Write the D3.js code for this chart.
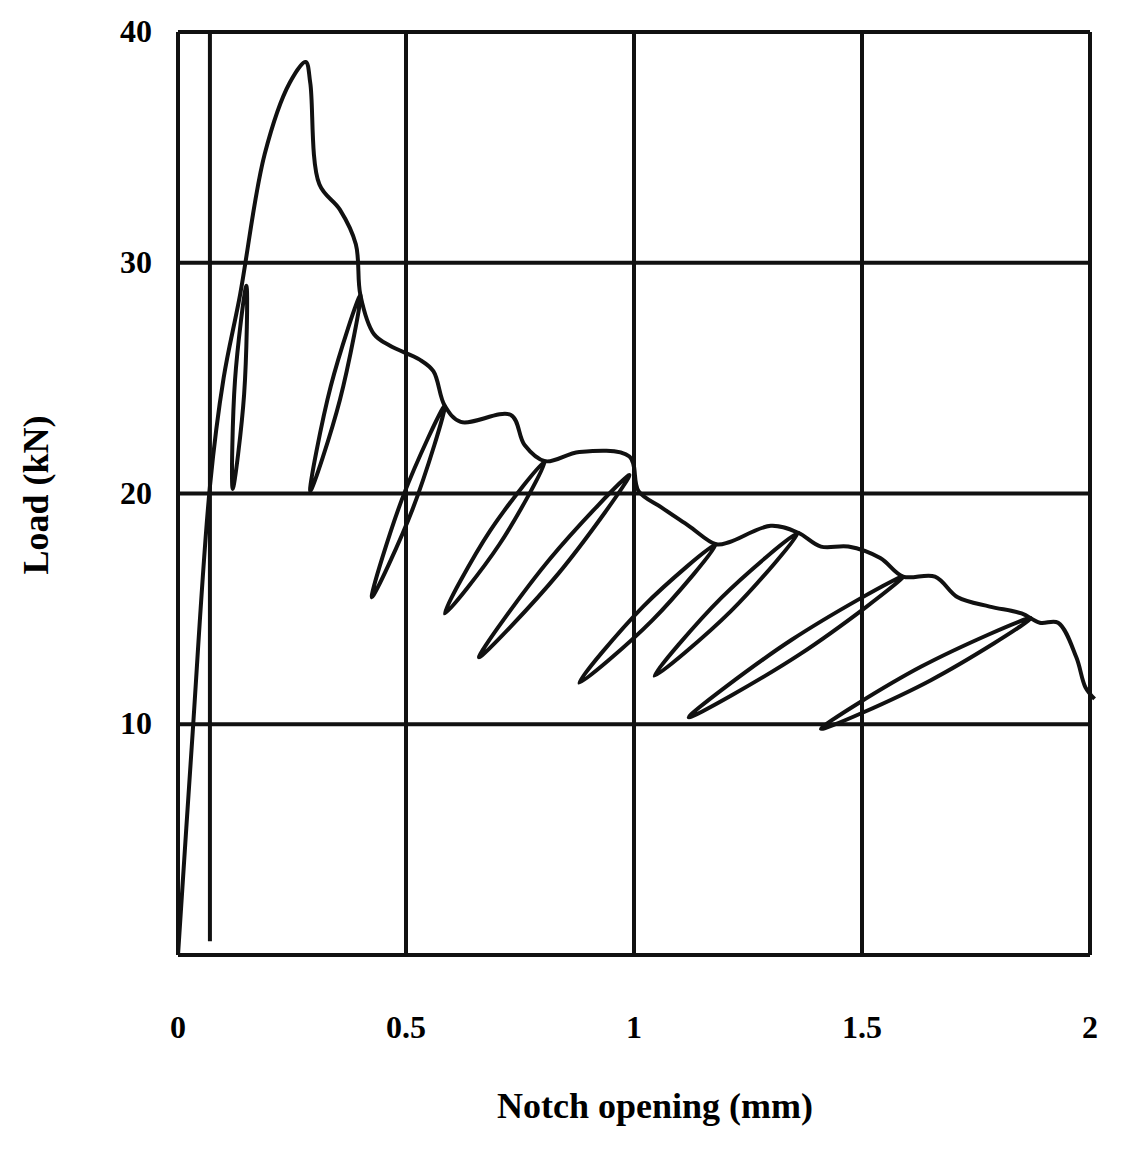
<!DOCTYPE html>
<html><head><meta charset="utf-8">
<script src="https://cdn.jsdelivr.net/npm/d3@7"></script>
<style>body{margin:0;background:#fff}</style></head>
<body><script>
// envelope curve: [opening mm, load kN]
let envelope = [[0,0],[0.03,9],[0.07,20.3],[0.1,25],[0.136,28.6],[0.19,34.7],[0.245,37.8],[0.28,38.7],[0.29,37.8],[0.31,33.4],
 [0.355,32.3],[0.39,30.8],[0.4,28.6],[0.43,26.9],[0.465,26.4],[0.53,25.8],[0.56,25.3],[0.585,23.8],[0.62,23.1],[0.73,23.4],
 [0.76,22.1],[0.805,21.4],[0.88,21.8],[0.99,21.6],[1.01,20.1],[1.06,19.4],[1.12,18.6],[1.18,17.8],[1.21,17.9],[1.3,18.6],
 [1.36,18.3],[1.41,17.7],[1.47,17.7],[1.54,17.2],[1.59,16.4],[1.66,16.4],[1.71,15.5],[1.78,15.1],[1.85,14.8],[1.89,14.4],
 [1.93,14.4],[1.97,12.9],[1.99,11.6],[2.01,11.1]];
// unloading/reloading loops: top point, bottom point
let loopTop = [[0.15,29],[0.4,28.6],[0.585,23.8],[0.805,21.4],[0.99,20.8],[1.18,17.8],[1.36,18.3],[1.59,16.4],[1.87,14.6]];
let loopBottom = [[0.12,20.2],[0.29,20.1],[0.425,15.5],[0.585,14.8],[0.66,12.9],[0.88,11.8],[1.045,12.1],[1.12,10.3],[1.41,9.8]];
let firstUnload = [[0.07,40],[0.07,0.6]];
let xTicks = [0,0.5,1,1.5,2], xTickLabels = ["0","0.5","1","1.5","2"];
let yTicks = [10,20,30,40];

let svg = d3.select("body").append("svg").attr("width",1130).attr("height",1154);
let x = d3.scaleLinear().domain([0,2]).range([178,1090]);
let y = d3.scaleLinear().domain([0,40]).range([955,32]);
let font = "'Liberation Serif', serif";

// grid
svg.selectAll(".vg").data(xTicks).enter().append("line")
  .attr("x1",d=>x(d)).attr("x2",d=>x(d)).attr("y1",y(40)).attr("y2",y(0))
  .attr("stroke","#111").attr("stroke-width",4);
svg.selectAll(".hg").data([0].concat(yTicks)).enter().append("line")
  .attr("x1",x(0)).attr("x2",x(2)).attr("y1",d=>y(d)).attr("y2",d=>y(d))
  .attr("stroke","#111").attr("stroke-width",4);

let line = d3.line().x(d=>x(d[0])).y(d=>y(d[1]));
svg.append("path").datum(envelope).attr("d",line.curve(d3.curveCatmullRom))
  .attr("fill","none").attr("stroke","#111").attr("stroke-width",4);
svg.append("path").datum(firstUnload).attr("d",d3.line().x(d=>x(d[0])).y(d=>y(d[1])))
  .attr("stroke","#111").attr("stroke-width",4);

let loopLine = d3.line().x(d=>x(d[0])).y(d=>y(d[1])).curve(d3.curveCatmullRomClosed);
svg.selectAll(".loop").data(loopTop).enter().append("path")
  .attr("d",(d,i)=>{
    let b = loopBottom[i];
    let mx=(d[0]+b[0])/2, my=(d[1]+b[1])/2;
    return loopLine([d,[mx+0.01,my-0.3],b,[mx-0.01,my+0.3]]);
  })
  .attr("fill","none").attr("stroke","#111").attr("stroke-width",4);

// labels
svg.selectAll(".xl").data(xTicks).enter().append("text")
  .attr("x",d=>x(d)).attr("y",1038).attr("text-anchor","middle")
  .attr("font-family",font).attr("font-weight","bold").attr("font-size",32)
  .text((d,i)=>xTickLabels[i]);
svg.selectAll(".yl").data(yTicks).enter().append("text")
  .attr("x",152).attr("y",d=>y(d)+10).attr("text-anchor","end")
  .attr("font-family",font).attr("font-weight","bold").attr("font-size",32)
  .text(d=>d);
svg.append("text").attr("x",655).attr("y",1118).attr("text-anchor","middle")
  .attr("font-family",font).attr("font-weight","bold").attr("font-size",36)
  .text("Notch opening (mm)");
svg.append("text").attr("transform","translate(48,495) rotate(-90)").attr("text-anchor","middle")
  .attr("font-family",font).attr("font-weight","bold").attr("font-size",36)
  .text("Load (kN)");
</script></body></html>
